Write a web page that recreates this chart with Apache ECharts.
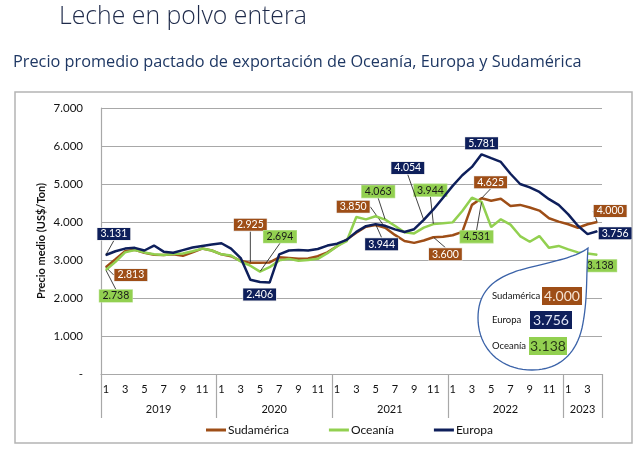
<!DOCTYPE html>
<html><head><meta charset="utf-8">
<script src="https://cdn.jsdelivr.net/npm/echarts@6/dist/echarts.min.js"></script>
<style>html,body{margin:0;padding:0;background:#fff}#c{width:639px;height:455px}</style>
</head><body><div id="c"></div>
<script>
// ---- data ----
const monthLabels = ['1','2','3','4','5','6','7','8','9','10','11','12',
  '1','2','3','4','5','6','7','8','9','10','11','12',
  '1','2','3','4','5','6','7','8','9','10','11','12',
  '1','2','3','4','5','6','7','8','9','10','11','12',
  '1','2','3','4'];
const yearLabels = ['2019','2020','2021','2022','2023'];
const seriesNames = ['Sudamérica','Oceanía','Europa'];
const sudamerica = [2813,3020,3230,3270,3190,3140,3130,3150,3110,3200,3300,3250,
  3150,3100,2980,2925,2930,2935,3070,3050,3030,3040,3100,3200,
  3363,3540,3717,3876,3920,3850,3660,3500,3451,3513,3600,3610,
  3650,3740,4450,4625,4560,4610,4420,4450,4380,4300,4100,4010,
  3940,3850,3940,4000];
const oceania = [2738,2950,3200,3260,3200,3150,3130,3160,3170,3230,3300,3250,
  3150,3120,2960,2850,2694,2810,2990,3030,2980,3000,3030,3180,
  3363,3495,4133,4070,4150,4063,3900,3730,3700,3850,3944,3965,
  3990,4290,4640,4531,3870,4070,3930,3630,3480,3630,3320,3370,
  3280,3200,3170,3138];
const europa = [3131,3230,3300,3320,3250,3380,3220,3190,3260,3330,3370,3410,
  3440,3300,3050,2480,2420,2406,3150,3250,3260,3250,3290,3380,
  3430,3530,3740,3890,3944,3900,3805,3735,3810,4054,4330,4640,
  4950,5230,5450,5781,5680,5580,5270,5000,4910,4790,4600,4450,
  4200,3900,3680,3756];
const yMin = 0, yMax = 7000, yStep = 1000;
// labelled points (index -> [dx, dy, leader line])
const labelSpecs = [
  {0:[25,8,true],15:[0,-38,true],29:[-32,-21,true],34:[12,17,true],39:[9,-16,true],51:[13,-11,true]},
  {0:[10,26,true],16:[20,-35,true],29:[-7,-28,true],34:[-3,-34,true],39:[-5,35,true],51:[3,11,false]},
  {0:[8,-21,true],17:[-10,12,false],28:[6,20,true],33:[-16,-52,true],39:[0,-11,false],51:[18,2,false]}
];
// ---- styling ----
const colors = ['#9e4e17','#92d050','#0e1f5b'];
const labelText = ['#ffffff','#1a1a1a','#ffffff'];
const FONT = 'Lato, "Open Sans", sans-serif';
const gridCol = '#a8a8a8';
const fmt = v => Math.round(v).toString().replace(/\B(?=(\d{3})+(?!\d))/g, '.');

// year of each month category
const yearCats = [];
const yearStart = [];
let yi = -1;
monthLabels.forEach((m, i) => { if (m === '1') { yi++; yearStart.push(i); } yearCats.push(yearLabels[yi]); });
const yearMid = yearStart.map((s, k) => {
  const e = k + 1 < yearStart.length ? yearStart[k + 1] : monthLabels.length;
  return Math.floor((s + e) / 2);
});

const values = [sudamerica, oceania, europa];
const series = values.map((arr, si) => ({
  name: seriesNames[si],
  type: 'line',
  data: arr.map((v, i) => {
    const s = labelSpecs[si][i];
    if (!s) return v;
    return { value: v, label: { show: true }, labelLine: { show: s[2] } };
  }),
  showSymbol: true,
  showAllSymbol: true,
  symbol: 'circle',
  symbolSize: 1,
  itemStyle: { color: colors[si] },
  lineStyle: { color: colors[si], width: 2.5 },
  z: 2 + si,
  label: {
    show: false,
    position: 'inside',
    formatter: p => fmt(p.value),
    backgroundColor: colors[si],
    color: labelText[si],
    fontFamily: FONT,
    fontSize: 10.5,
    lineHeight: 11,
    padding: [1, 3, 0, 3],
    borderColor: si === 1 ? '#b5e08a' : '#e8e8e8',
    borderWidth: 0.6
  },
  labelLine: { show: false, lineStyle: { color: '#111', width: 0.8 } },
  labelLayout: p => {
    const s = labelSpecs[si][p.dataIndex];
    return s ? { dx: s[0], dy: s[1] } : {};
  },
  emphasis: { disabled: true }
}));

// callout bubble outline (cubic bezier segments sampled into a polygon)
const bubbleCurves = [
  [[588,248],[586,275],[588,300],[582,328]],
  [[582,328],[575,358],[555,370],[532,370]],
  [[532,370],[500,370],[478,348],[478,318]],
  [[478,318],[478,290],[495,278],[520,270]],
  [[520,270],[550,262],[575,258],[588,248]]
];
const bubblePts = [];
bubbleCurves.forEach(c => {
  for (let k = 0; k < 20; k++) {
    const t = k / 20, u = 1 - t;
    const a = u*u*u, b = 3*u*u*t, cc = 3*u*t*t, d = t*t*t;
    bubblePts.push([a*c[0][0]+b*c[1][0]+cc*c[2][0]+d*c[3][0], a*c[0][1]+b*c[1][1]+cc*c[2][1]+d*c[3][1]]);
  }
});

const last = values.map(a => a[a.length - 1]);
const bubbleRows = [
  { name: seriesNames[0], v: last[0], col: colors[0], tc: '#f6e3d3', y: 296, bx: 542, bw: 40 },
  { name: seriesNames[2], v: last[2], col: colors[2], tc: '#e1e6f7', y: 320, bx: 530, bw: 42 },
  { name: seriesNames[1], v: last[1], col: colors[1], tc: '#2a3a18', y: 346, bx: 529, bw: 38 }
];
const graphics = [
  { type: 'rect', shape: { x: 15, y: 92, width: 617, height: 351 }, style: { fill: 'none', stroke: '#b4b4b4', lineWidth: 1.5 }, z: 0, silent: true },
  { type: 'text', style: { x: 59, y: 17, text: 'Leche en polvo entera', font: '300 24.8px "Open Sans", sans-serif', fill: '#1e2a4a', verticalAlign: 'middle' } },
  { type: 'text', style: { x: 13, y: 62, text: 'Precio promedio pactado de exportación de Oceanía, Europa y Sudamérica', font: '16.3px "Open Sans", sans-serif', fill: '#1f3864', verticalAlign: 'middle' } },
  { type: 'polygon', z: 20, shape: { points: bubblePts }, style: { fill: '#ffffff', stroke: '#3a62a8', lineWidth: 1.3 } }
];
bubbleRows.forEach(r => {
  graphics.push({ type: 'text', z: 21, style: { x: 492, y: r.y, text: r.name, font: '9.5px ' + FONT, fill: '#111', verticalAlign: 'middle' } });
  graphics.push({ type: 'rect', z: 21, shape: { x: r.bx, y: r.y - 9, width: r.bw, height: 18 }, style: { fill: r.col } });
  graphics.push({ type: 'text', z: 22, style: { x: r.bx + r.bw / 2, y: r.y, text: fmt(r.v), font: '14px ' + FONT, fill: r.tc, align: 'center', verticalAlign: 'middle' } });
});

const chart = echarts.init(document.getElementById('c'), null, { renderer: 'canvas' });
chart.setOption({
  animation: false,
  backgroundColor: '#ffffff',
  textStyle: { fontFamily: FONT },
  grid: { left: 101, right: 37, top: 108, bottom: 81, containLabel: false },
  legend: {
    data: seriesNames,
    left: 206, top: 424, padding: 0,
    icon: 'rect', itemWidth: 20, itemHeight: 3, itemGap: 40,
    textStyle: { fontSize: 12, color: '#111', fontFamily: FONT, padding: [0, 0, 0, -3] }
  },
  xAxis: [{
    type: 'category', data: monthLabels, boundaryGap: true,
    axisLine: { show: true, lineStyle: { color: gridCol, width: 1.2 } },
    axisTick: { show: false },
    axisLabel: { interval: i => i % 2 === 0, margin: 10, fontSize: 11, color: '#111', fontFamily: FONT },
    splitLine: { show: false }
  }, {
    type: 'category', data: yearCats, boundaryGap: true, position: 'bottom',
    axisLine: { show: false },
    axisTick: { show: true, interval: i => yearStart.includes(i), length: 44, lineStyle: { color: gridCol, width: 1.2 } },
    axisLabel: { interval: i => yearMid.includes(i), margin: 30, fontSize: 11, color: '#111', fontFamily: FONT, padding: [0, 10, 0, 0] },
    splitLine: { show: false }
  }],
  yAxis: {
    type: 'value', min: yMin, max: yMax, interval: yStep,
    name: 'Precio medio (US$/Ton)', nameLocation: 'middle', nameGap: 54, nameMoveOverlap: false,
    nameTextStyle: { fontSize: 11, fontWeight: 'bold', color: '#111', fontFamily: FONT },
    axisLine: { show: true, lineStyle: { color: gridCol, width: 1.2 } },
    axisTick: { show: false },
    axisLabel: { margin: 18, fontSize: 11.5, color: '#111', fontFamily: FONT, formatter: v => v === 0 ? '-' : fmt(v) },
    splitLine: { show: true, lineStyle: { color: gridCol, width: 1.2 } }
  },
  series: series,
  graphic: graphics
});
</script></body></html>
